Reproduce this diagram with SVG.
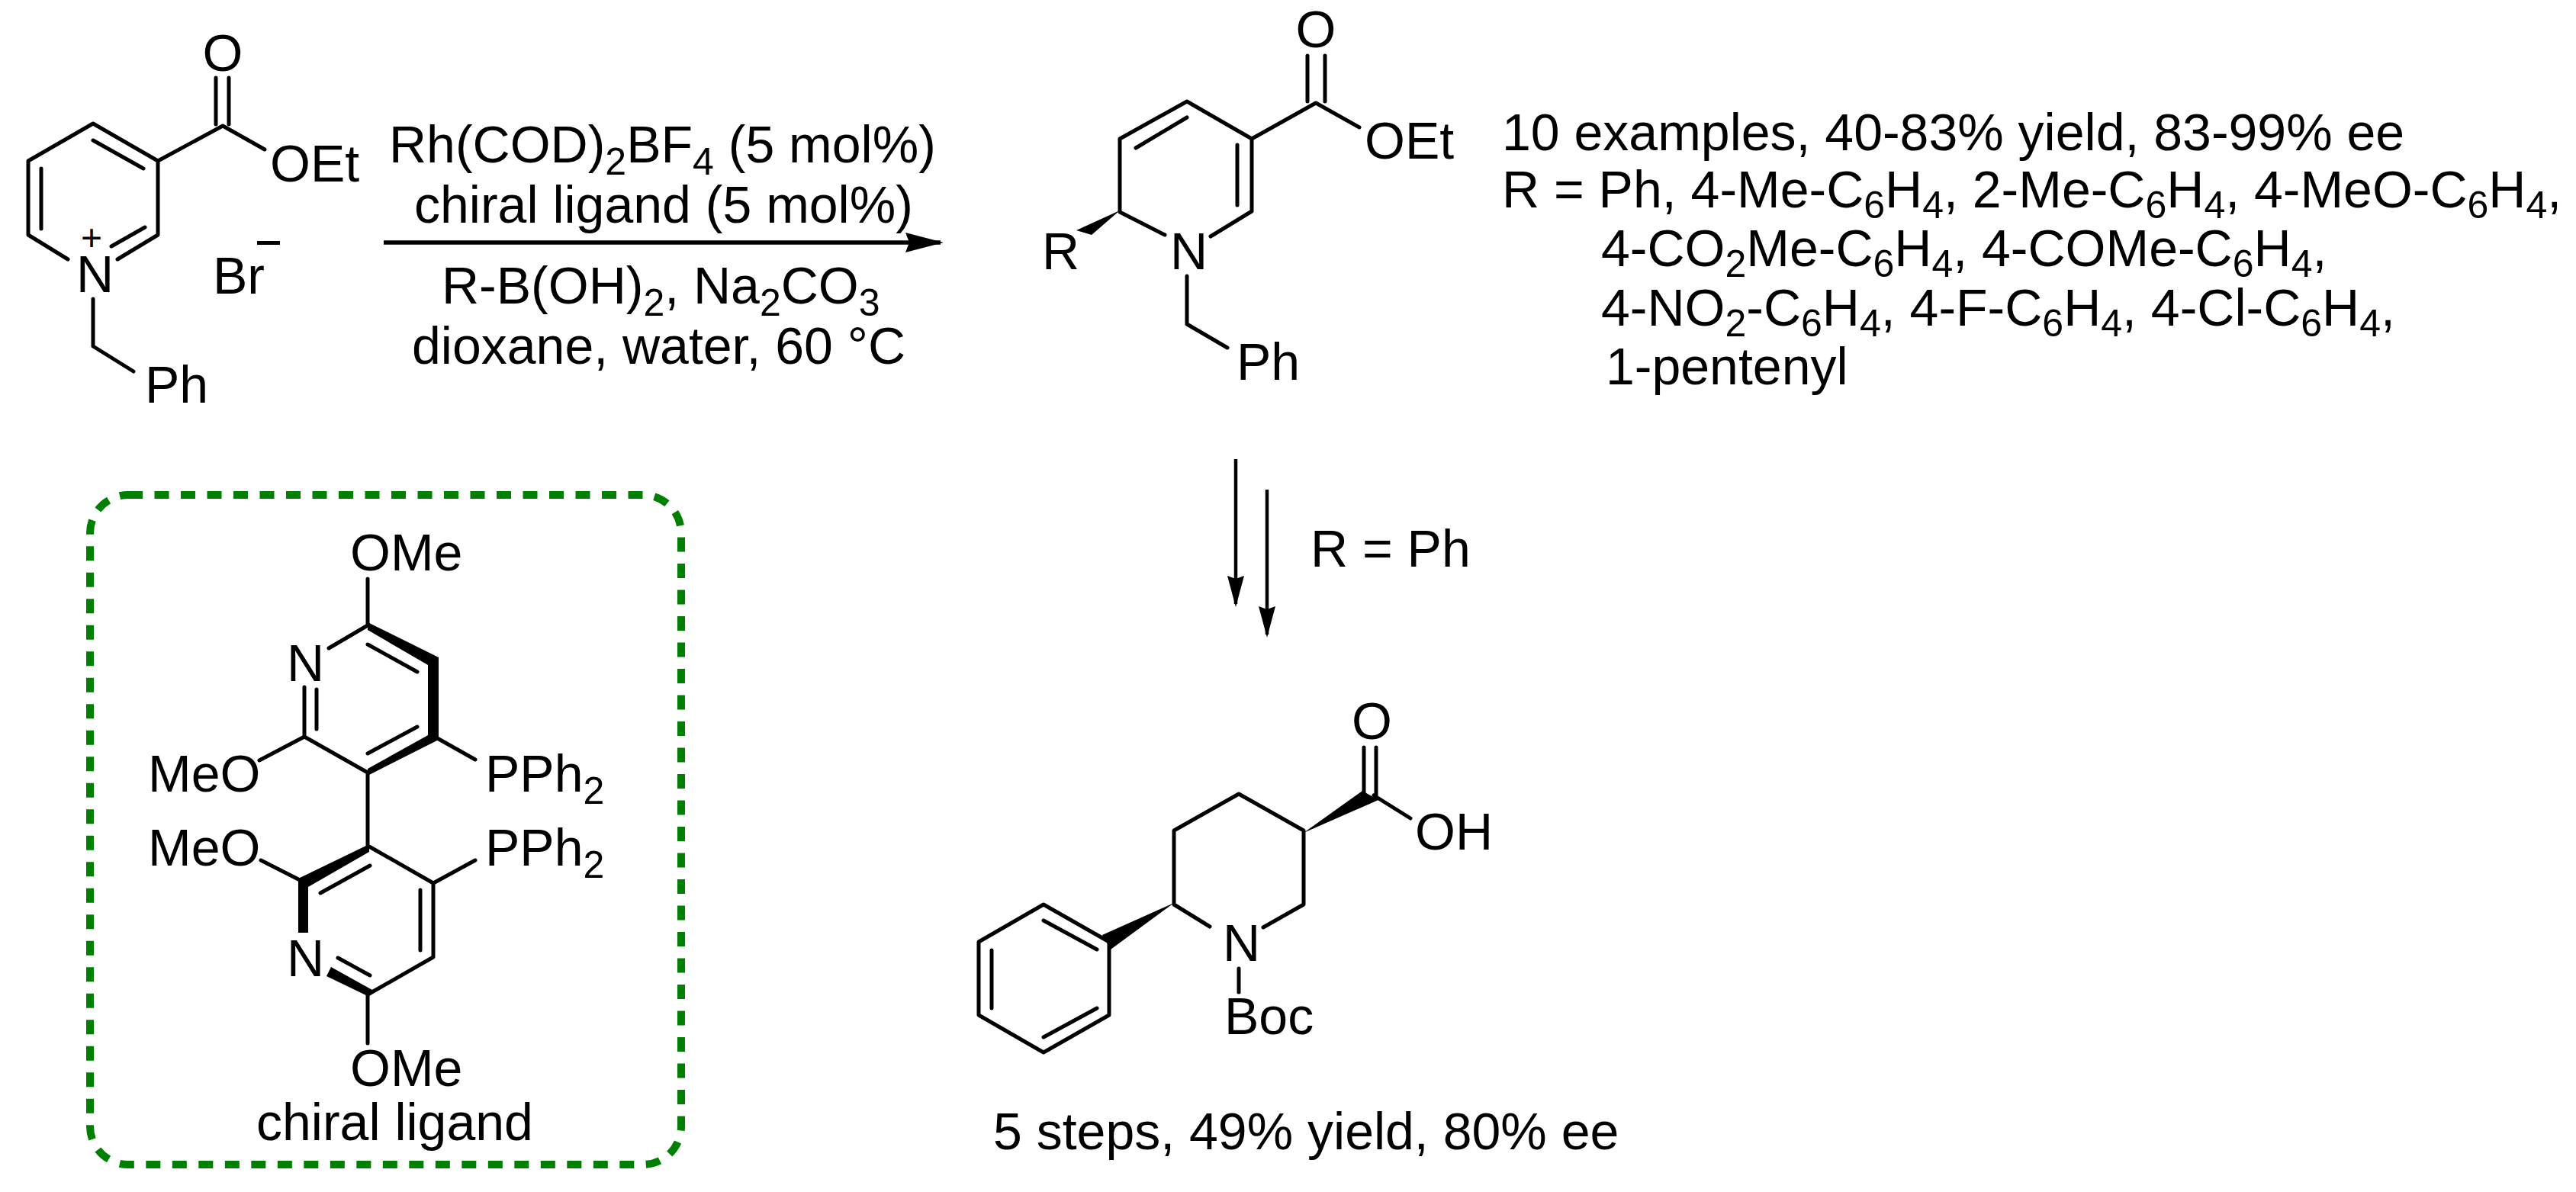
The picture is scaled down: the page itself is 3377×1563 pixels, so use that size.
<svg xmlns="http://www.w3.org/2000/svg" width="3377" height="1563" viewBox="0 0 3377 1563">
<style>
text{font-family:"Liberation Sans",Arial,sans-serif;font-size:68px;fill:#000}
.s{font-size:50px}
.b path{fill:none;stroke:#000;stroke-width:5;stroke-linecap:round;stroke-linejoin:round}
.w{fill:#000;stroke:none}
.a{fill:none;stroke:#000}
</style>
<defs>
<marker id="big" markerUnits="userSpaceOnUse" markerWidth="60" markerHeight="40" refX="46" refY="20" orient="auto" overflow="visible"><path d="M0 7L50 20L0 33L5 20Z" fill="#000"/></marker>
<marker id="small" markerUnits="userSpaceOnUse" markerWidth="50" markerHeight="30" refX="37" refY="15" orient="auto" overflow="visible"><path d="M0 4L41 15L0 26L4 15Z" fill="#000"/></marker>
</defs>
<rect width="3377" height="1563" fill="#fff"/>
<g id="pyridinium">
<g class="b"><path d="M89 340L37 308V211L122 162L207 211V308L154 340M54 221V300M122 184L188 221M190 298L146 323M207 211L292 165L347 196M283 102V163M300 102V163M122 392V454L175 487"/></g>
<text x="292" y="93" text-anchor="middle">O</text>
<text x="354" y="238">OEt</text>
<text x="100" y="383">N</text>
<text x="106" y="328" style="font-size:48px" >+</text>
<text x="190" y="528">Ph</text>
<text x="279" y="385">Br</text>
<rect x="337" y="316" width="30" height="5" fill="#000"/>
</g>
<g id="conditions">
<text x="510" y="213">Rh(COD)<tspan class="s" dy="16">2</tspan><tspan dy="-16">BF</tspan><tspan class="s" dy="16">4</tspan><tspan dy="-16"> (5 mol%)</tspan></text>
<text x="543" y="292">chiral ligand (5 mol%)</text>
<text x="579" y="398">R-B(OH)<tspan class="s" dy="16">2</tspan><tspan dy="-16">, Na</tspan><tspan class="s" dy="16">2</tspan><tspan dy="-16">CO</tspan><tspan class="s" dy="16">3</tspan></text>
<text x="540" y="477">dioxane, water, 60 °C</text>
</g>
<g id="dihydropyridine">
<g class="b"><path d="M1527 308L1468 278V182L1556 133L1641 182V277L1587 310M1489 194L1556 154M1622 190V269M1641 182L1725 135L1782 167M1714 73V133M1737 73V133M1556 362V425L1609 456"/></g>
<path class="w" d="M1468 276L1411 302L1431 308Z"/>
<text x="1725" y="62" text-anchor="middle">O</text>
<text x="1789" y="208">OEt</text>
<text x="1366" y="353">R</text>
<text x="1534" y="353">N</text>
<text x="1621" y="498">Ph</text>
</g>
<g id="scope">
<text x="1969" y="197">10 examples, 40-83% yield, 83-99% ee</text>
<text x="1969" y="272">R = Ph, 4-Me-C<tspan class="s" dy="14">6</tspan><tspan dy="-14">H</tspan><tspan class="s" dy="14">4</tspan><tspan dy="-14">, 2-Me-C</tspan><tspan class="s" dy="14">6</tspan><tspan dy="-14">H</tspan><tspan class="s" dy="14">4</tspan><tspan dy="-14">, 4-MeO-C</tspan><tspan class="s" dy="14">6</tspan><tspan dy="-14">H</tspan><tspan class="s" dy="14">4</tspan><tspan dy="-14">,</tspan></text>
<text x="2099" y="349">4-CO<tspan class="s" dy="14">2</tspan><tspan dy="-14">Me-C</tspan><tspan class="s" dy="14">6</tspan><tspan dy="-14">H</tspan><tspan class="s" dy="14">4</tspan><tspan dy="-14">, 4-COMe-C</tspan><tspan class="s" dy="14">6</tspan><tspan dy="-14">H</tspan><tspan class="s" dy="14">4</tspan><tspan dy="-14">,</tspan></text>
<text x="2099" y="427">4-NO<tspan class="s" dy="14">2</tspan><tspan dy="-14">-C</tspan><tspan class="s" dy="14">6</tspan><tspan dy="-14">H</tspan><tspan class="s" dy="14">4</tspan><tspan dy="-14">, 4-F-C</tspan><tspan class="s" dy="14">6</tspan><tspan dy="-14">H</tspan><tspan class="s" dy="14">4</tspan><tspan dy="-14">, 4-Cl-C</tspan><tspan class="s" dy="14">6</tspan><tspan dy="-14">H</tspan><tspan class="s" dy="14">4</tspan><tspan dy="-14">,</tspan></text>
<text x="2105" y="504">1-pentenyl</text>
</g>
<g id="ligand">
<rect x="118" y="649" width="775" height="878" rx="50" ry="50" fill="none" stroke="#008000" stroke-width="10" stroke-dasharray="19 15.5"/>
<g class="b"><path d="M482 759V820L431 850M399 901V966L482 1013M415 904V956M340 997L399 966M568 965L623 996M482 845L547 881M547 953L482 988M482 1013V1110M484 1110L568 1158L623 1128M342 1128L399 1157M568 1158V1255L484 1303M551 1167V1246M420 1171L485 1135M443 1256L485 1279M482 1303V1368"/></g>
<path class="w" d="M482 816L575 862V970L482 1017V1008L561 964V872L482 826Z"/>
<path class="w" d="M484 1107V1117L404 1163V1223H391V1152Z"/>
<path class="w" d="M434 1268L488 1298L484 1307L428 1280Z"/>
<text x="459" y="748">OMe</text>
<text x="376" y="893">N</text>
<text x="194" y="1038">MeO</text>
<text x="636" y="1038">PPh<tspan class="s" dy="16">2</tspan></text>
<text x="194" y="1135">MeO</text>
<text x="636" y="1135">PPh<tspan class="s" dy="16">2</tspan></text>
<text x="376" y="1280">N</text>
<text x="459" y="1424">OMe</text>
<text x="336" y="1495">chiral ligand</text>
</g>
<g id="product">
<g class="b"><path d="M1586 1215L1539 1186V1089L1624 1041L1709 1089V1186L1656 1216M1801 1043L1849 1073M1788 980V1040M1804 980V1045M1624 1270V1301M1454 1235L1368 1186L1283 1235V1331L1368 1380L1454 1331ZM1438 1245L1368 1207M1300 1246V1322M1368 1360L1438 1322"/></g>
<path class="w" d="M1709 1092L1786 1037L1807 1049Z"/>
<path class="w" d="M1539 1184L1445 1226L1456 1245Z"/>
<text x="1772" y="969">O</text>
<text x="1855" y="1114">OH</text>
<text x="1603" y="1260">N</text>
<text x="1605" y="1356">Boc</text>
</g>
<g id="labels">
<text x="1718" y="743">R = Ph</text>
<text x="1302" y="1507">5 steps, 49% yield, 80% ee</text>
</g>
<g id="connectors">
<path class="a" stroke-width="5.5" marker-end="url(#big)" d="M503 318H1233"/>
<path class="a" stroke-width="4.5" marker-end="url(#small)" d="M1620 602V792"/>
<path class="a" stroke-width="4.5" marker-end="url(#small)" d="M1661 642V832"/>
</g>
</svg>
